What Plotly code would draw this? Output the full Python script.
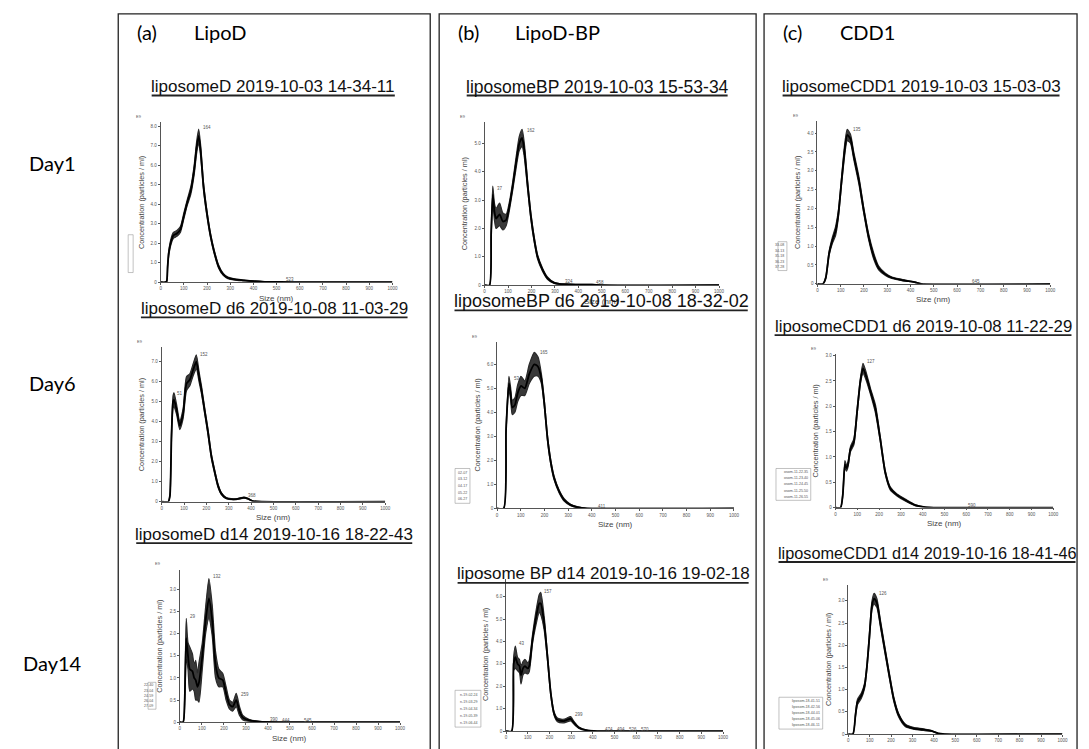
import plotly.graph_objects as go
import numpy as np

W, H = 1089, 749

# ---------------- DATA (size nm, mean concentration E9 particles/ml, half-width of band) -------------
A1_size = [0, 20, 26, 30, 35, 45, 55, 70, 85, 100, 115, 130, 145, 155, 164, 172, 185, 200, 215, 230, 250, 270, 290, 320, 360, 400, 450, 520, 600, 1000]
A1_conc = [0, 0, 0.05, 0.8, 1.5, 2.1, 2.4, 2.5, 2.7, 3.4, 4.1, 4.7, 5.8, 6.9, 7.5, 6.8, 4.9, 3.5, 2.4, 1.6, 0.8, 0.4, 0.22, 0.14, 0.09, 0.05, 0.02, 0.01, 0, 0]
A1_err = [0, 0, 0.02, 0.1, 0.12, 0.15, 0.15, 0.15, 0.15, 0.15, 0.15, 0.2, 0.25, 0.3, 0.35, 0.3, 0.2, 0.15, 0.12, 0.1, 0.08, 0.05, 0.04, 0.03, 0.02, 0.02, 0.01, 0, 0, 0]
A1_peaks = [164, 523]

A2_size = [0, 30, 37, 44, 51, 55, 67, 81, 96, 111, 126, 141, 155, 168, 178, 193, 207, 222, 237, 252, 267, 289, 333, 368, 385, 407, 450, 1000]
A2_conc = [0, 0, 0.3, 3.3, 5.0, 5.1, 4.6, 3.8, 4.4, 5.9, 6.1, 6.6, 7.0, 6.2, 5.6, 4.5, 3.5, 2.3, 1.5, 0.8, 0.4, 0.17, 0.12, 0.2, 0.15, 0.03, 0, 0]
A2_err = [0, 0, 0.05, 0.2, 0.3, 0.35, 0.25, 0.2, 0.25, 0.35, 0.3, 0.3, 0.35, 0.25, 0.2, 0.15, 0.15, 0.12, 0.1, 0.08, 0.05, 0.03, 0.02, 0.03, 0.02, 0.01, 0, 0]
A2_peaks = [51, 152, 368]

A3_size = [0, 15, 22, 29, 37, 45, 57, 65, 72, 80, 87, 102, 117, 132, 147, 162, 177, 195, 210, 225, 240, 256, 271, 286, 316, 361, 450, 1000]
A3_conc = [0, 0, 0.5, 1.9, 1.5, 1.2, 1.15, 1.0, 0.95, 0.8, 0.9, 1.5, 2.3, 2.8, 2.3, 1.3, 1.0, 0.95, 0.65, 0.4, 0.35, 0.5, 0.25, 0.1, 0.04, 0.01, 0, 0]
A3_err = [0, 0, 0.1, 0.45, 0.3, 0.5, 0.4, 0.3, 0.45, 0.3, 0.45, 0.3, 0.3, 0.45, 0.35, 0.3, 0.2, 0.15, 0.15, 0.1, 0.1, 0.15, 0.1, 0.05, 0.02, 0.01, 0, 0]
A3_peaks = [29, 132, 259, 390, 444, 545]

B1_size = [0, 21, 28, 35, 42, 49, 64, 78, 92, 106, 120, 134, 148, 160, 169, 184, 198, 212, 226, 247, 268, 297, 325, 360, 400, 458, 500, 1000]
B1_conc = [0, 0, 1.8, 3.2, 2.6, 2.35, 2.5, 2.25, 2.3, 2.8, 3.5, 4.3, 5.0, 5.2, 4.8, 3.5, 2.4, 1.6, 1.0, 0.55, 0.25, 0.08, 0.04, 0.03, 0.02, 0.02, 0, 0]
B1_err = [0, 0, 0.1, 0.3, 0.3, 0.35, 0.4, 0.3, 0.2, 0.15, 0.15, 0.2, 0.25, 0.3, 0.25, 0.15, 0.12, 0.1, 0.08, 0.06, 0.04, 0.02, 0.01, 0.01, 0.01, 0.01, 0, 0]
B1_peaks = [37, 162, 324, 458]

B2_size = [0, 28, 38, 50, 57, 64, 75, 87, 101, 117, 136, 157, 173, 187, 199, 213, 227, 241, 262, 283, 310, 338, 380, 1000]
B2_conc = [0, 0, 3.3, 5.2, 4.8, 4.2, 4.3, 4.8, 5.1, 5.0, 5.6, 6.0, 5.9, 5.4, 4.4, 2.9, 1.9, 1.25, 0.7, 0.35, 0.14, 0.05, 0, 0]
B2_err = [0, 0, 0.1, 0.3, 0.25, 0.3, 0.3, 0.35, 0.4, 0.3, 0.4, 0.5, 0.4, 0.2, 0.15, 0.12, 0.1, 0.08, 0.06, 0.05, 0.03, 0.02, 0, 0]
B2_peaks = [53, 165, 411]

B3_size = [0, 26, 35, 43, 53, 62, 69, 78, 87, 100, 107, 122, 137, 153, 160, 176, 191, 206, 221, 237, 267, 298, 313, 336, 374, 420, 1000]
B3_conc = [0, 0, 3.0, 3.3, 3.0, 2.9, 2.5, 2.8, 2.9, 2.8, 2.9, 4.1, 5.0, 5.7, 5.7, 4.8, 3.3, 1.7, 0.8, 0.5, 0.45, 0.55, 0.37, 0.15, 0.03, 0, 0]
B3_err = [0, 0, 0.3, 0.5, 0.3, 0.3, 0.4, 0.3, 0.3, 0.25, 0.25, 0.2, 0.3, 0.4, 0.5, 0.3, 0.15, 0.1, 0.08, 0.08, 0.08, 0.1, 0.06, 0.03, 0.01, 0, 0]
B3_peaks = [43, 157, 299, 474, 494, 526, 570]

C1_size = [0, 24, 36, 50, 64, 78, 90, 104, 118, 128, 142, 156, 178, 199, 220, 242, 263, 292, 320, 363, 391, 420, 448, 1000]
C1_conc = [0, 0, 0.16, 0.8, 1.15, 1.4, 1.85, 2.75, 3.6, 3.95, 3.85, 3.4, 2.75, 1.95, 1.25, 0.73, 0.42, 0.25, 0.16, 0.1, 0.07, 0.04, 0, 0]
C1_err = [0, 0, 0.03, 0.06, 0.08, 0.12, 0.1, 0.1, 0.15, 0.15, 0.12, 0.1, 0.1, 0.08, 0.08, 0.08, 0.05, 0.03, 0.02, 0.02, 0.01, 0.01, 0, 0]
C1_peaks = [135, 645]

C2_size = [0, 23, 33, 43, 50, 57, 68, 84, 99, 114, 126, 140, 160, 183, 205, 228, 251, 282, 320, 365, 411, 450, 1000]
C2_conc = [0, 0, 0.25, 0.85, 0.78, 0.85, 1.15, 1.3, 1.9, 2.5, 2.75, 2.6, 2.3, 1.95, 1.36, 0.7, 0.38, 0.25, 0.15, 0.05, 0.01, 0, 0]
C2_err = [0, 0, 0.03, 0.08, 0.06, 0.05, 0.05, 0.06, 0.06, 0.06, 0.1, 0.08, 0.06, 0.08, 0.05, 0.04, 0.03, 0.02, 0.02, 0.01, 0, 0, 0]
C2_peaks = [127, 590]

C3_size = [0, 22, 34, 43, 62, 77, 88, 99, 111, 121, 134, 150, 165, 189, 212, 235, 266, 304, 351, 389, 420, 450, 1000]
C3_conc = [0, 0, 0.43, 0.72, 0.87, 1.1, 1.55, 2.2, 2.9, 3.05, 2.95, 2.5, 2.07, 1.4, 0.8, 0.43, 0.2, 0.13, 0.1, 0.07, 0.015, 0, 0]
C3_err = [0, 0, 0.04, 0.06, 0.06, 0.06, 0.06, 0.08, 0.1, 0.12, 0.1, 0.08, 0.07, 0.06, 0.05, 0.04, 0.03, 0.02, 0.02, 0.01, 0, 0, 0]
C3_peaks = [126]

# tick labels
x_ticks = [0, 100, 200, 300, 400, 500, 600, 700, 800, 900, 1000]
y_ticks_A1 = [0, 1, 2, 3, 4, 5, 6, 7, 8]
y_ticks_A2 = [0, 1, 2, 3, 4, 5, 6, 7]
y_ticks_A3 = [0, 0.5, 1.0, 1.5, 2.0, 2.5, 3.0]
y_ticks_B1 = [0, 1, 2, 3, 4, 5]
y_ticks_B2 = [0, 1, 2, 3, 4, 5, 6]
y_ticks_B3 = [0, 1, 2, 3, 4, 5, 6]
y_ticks_C1 = [0, 0.5, 1.0, 1.5, 2.0, 2.5, 3.0, 3.5, 4.0]
y_ticks_C2 = [0, 0.5, 1.0, 1.5, 2.0, 2.5, 3.0]
y_ticks_C3 = [0, 0.5, 1.0, 1.5, 2.0, 2.5, 3.0]

# texts
column_letters = ["(a)", "(b)", "(c)"]
column_names = ["LipoD", "LipoD-BP", "CDD1"]
row_names = ["Day1", "Day6", "Day14"]
titles = {
    "A1": "liposomeD 2019-10-03 14-34-11",
    "A2": "liposomeD d6 2019-10-08 11-03-29",
    "A3": "liposomeD d14 2019-10-16 18-22-43",
    "B1": "liposomeBP 2019-10-03 15-53-34",
    "B2": "liposomeBP d6 2019-10-08 18-32-02",
    "B3": "liposome BP d14 2019-10-16 19-02-18",
    "C1": "liposomeCDD1 2019-10-03 15-03-03",
    "C2": "liposomeCDD1 d6 2019-10-08 11-22-29",
    "C3": "liposomeCDD1 d14 2019-10-16 18-41-46",
}
legend_texts = {
    "A3": ["22-40", "23-04", "24-59", "26-04", "27-09"],
    "B2": ["02-07", "03-12", "04-17", "05-22", "06-27"],
    "B3": ["n-19-02-24", "n-19-03-29", "n-19-04-34", "n-19-05-39", "n-19-06-44"],
    "C1": ["33-08", "34-13", "35-18", "36-23", "37-28"],
    "C2": ["osom-11-22-35", "osom-11-23-40", "osom-11-24-45", "osom-11-25-50", "osom-11-26-55"],
    "C3": ["liposom-18-41-51", "liposom-18-42-56", "liposom-18-44-01", "liposom-18-45-06", "liposom-18-46-11"],
}
y_title = "Concentration (particles / ml)"
x_title = "Size (nm)"

data = {
    "A1": (A1_size, A1_conc, A1_err, A1_peaks, y_ticks_A1),
    "A2": (A2_size, A2_conc, A2_err, A2_peaks, y_ticks_A2),
    "A3": (A3_size, A3_conc, A3_err, A3_peaks, y_ticks_A3),
    "B1": (B1_size, B1_conc, B1_err, B1_peaks, y_ticks_B1),
    "B2": (B2_size, B2_conc, B2_err, B2_peaks, y_ticks_B2),
    "B3": (B3_size, B3_conc, B3_err, B3_peaks, y_ticks_B3),
    "C1": (C1_size, C1_conc, C1_err, C1_peaks, y_ticks_C1),
    "C2": (C2_size, C2_conc, C2_err, C2_peaks, y_ticks_C2),
    "C3": (C3_size, C3_conc, C3_err, C3_peaks, y_ticks_C3),
}

# ---------------- GEOMETRY (pixels) ----------------
geom = {
    "A1": dict(x0=160.7, x1=394, yb=282.7, yt=122, ymax=8.2),
    "A2": dict(x0=161.7, x1=386.7, yb=503.3, yt=348, ymax=7.73),
    "A3": dict(x0=180, x1=401.7, yb=725, yt=571.7, ymax=3.45),
    "B1": dict(x0=486.7, x1=722.7, yb=285.7, yt=121.7, ymax=5.76),
    "B2": dict(x0=499.3, x1=737.7, yb=510, yt=343.3, ymax=6.91),
    "B3": dict(x0=508.3, x1=726.7, yb=734, yt=580.7, ymax=6.81),
    "C1": dict(x0=821.7, x1=1056, yb=284.3, yt=120.7, ymax=4.32),
    "C2": dict(x0=840, x1=1059, yb=509.3, yt=355, ymax=3.03),
    "C3": dict(x0=852.7, x1=1068.3, yb=737, yt=587.5, ymax=3.35),
}
# horizontal nudges (px) of crowded peak labels
label_shift = {"B3": [0, 0, 0, -8, 0, 5, 7]}
title_pos = {"A1": (274, 86), "A2": (275, 309), "A3": (275, 536),
             "B1": (600, 86), "B2": (604, 302), "B3": (606, 576),
             "C1": (926, 86), "C2": (928, 327), "C3": (932, 555)}
title_size = {"A1": 17, "A2": 17, "A3": 17, "B1": 17.5, "B2": 18, "B3": 17,
              "C1": 17, "C2": 16.8, "C3": 16.3}
legend_box = {"A3": (148, 685, 156, 712), "B2": (457, 470, 472, 505), "B3": (457, 693, 483, 730),
              "C1": (782, 242, 791, 271), "C2": (780, 470, 815, 502), "C3": (783, 700, 827, 732)}
boxes = [(118, 432), (441, 760), (768, 1083)]


def px(x):
    return x / W


def py(y):
    return 1 - y / H


# Arial-like advance widths (em) for underline length
AW = {'0': .556, '1': .556, '2': .556, '3': .556, '4': .556, '5': .556, '6': .556, '7': .556, '8': .556,
      '9': .556, '-': .333, ' ': .278, 'l': .222, 'i': .222, 'p': .556, 'o': .556, 's': .5, 'm': .833,
      'e': .556, 'D': .722, 'B': .667, 'P': .667, 'C': .722, 'd': .556}


def text_width(t, size):
    return sum(AW.get(c, .556) for c in t) * size


fig = go.Figure()
layout = {}
annotations = []
shapes = []
GRAY = "#555555"
FONT = "Liberation Sans, Arial, sans-serif"

for k, key in enumerate(["A1", "A2", "A3", "B1", "B2", "B3", "C1", "C2", "C3"], start=1):
    g = geom[key]
    size, conc, err, peaks, yt = data[key]
    size = np.array(size, float)
    conc = np.array(conc, float)
    err = np.array(err, float)
    up = conc + err
    lo = np.maximum(conc - err, 0)
    xa = "x" if k == 1 else f"x{k}"
    ya = "y" if k == 1 else f"y{k}"
    fig.add_trace(go.Scatter(x=np.concatenate([size, size[::-1]]), y=np.concatenate([up, lo[::-1]]),
                             fill="toself", fillcolor="rgba(45,45,45,0.95)", mode="lines",
                             line=dict(width=1.2, color="#2a2a2a", shape="spline", smoothing=0.6),
                             xaxis=xa, yaxis=ya, hoverinfo="skip", showlegend=False))
    fig.add_trace(go.Scatter(x=size, y=conc, mode="lines",
                             line=dict(color="black", width=1.8, shape="spline", smoothing=0.6),
                             xaxis=xa, yaxis=ya, showlegend=False))
    axcommon = dict(showline=True, linecolor=GRAY, linewidth=0.8, ticks="outside", ticklen=2,
                    tickwidth=0.6, tickcolor=GRAY, showgrid=False, zeroline=False,
                    tickfont=dict(size=4.5, color=GRAY, family=FONT))
    layout["xaxis" if k == 1 else f"xaxis{k}"] = dict(domain=[px(g["x0"]), px(g["x1"])], range=[0, 1000],
                                                      anchor=ya, tickvals=x_ticks,
                                                      ticktext=[str(v) for v in x_ticks], **axcommon)
    layout["yaxis" if k == 1 else f"yaxis{k}"] = dict(domain=[py(g["yb"]), py(g["yt"])], range=[0, g["ymax"]],
                                                      anchor=xa, tickvals=yt,
                                                      ticktext=["0" if v == 0 else f"{v:.1f}" for v in yt],
                                                      **axcommon)
    # peak labels
    shifts = label_shift.get(key, [0] * len(peaks))
    for p, s in zip(peaks, shifts):
        yv = float(np.interp(p, size, up))
        annotations.append(dict(x=p, y=yv, xref=xa, yref=ya, text=str(p), showarrow=False,
                                xanchor="left", yanchor="middle", xshift=2 + s, yshift=2,
                                font=dict(size=4.5, color=GRAY, family=FONT)))
    # E9
    annotations.append(dict(x=px(g["x0"] - 22), y=py(g["yt"] - 6), xref="paper", yref="paper", text="E9",
                            showarrow=False, xanchor="center", yanchor="middle",
                            font=dict(size=4, color=GRAY, family=FONT)))
    # axis titles
    annotations.append(dict(x=px(g["x0"] - 20), y=py((g["yb"] + g["yt"]) / 2), xref="paper", yref="paper",
                            text=y_title, textangle=-90, showarrow=False, xanchor="center", yanchor="middle",
                            font=dict(size=7.3, color="#444444", family=FONT)))
    if g["yb"] + 16 < H - 5:
        annotations.append(dict(x=px((g["x0"] + g["x1"]) / 2), y=py(g["yb"] + 16), xref="paper", yref="paper",
                                text=x_title, showarrow=False, xanchor="center", yanchor="middle",
                                font=dict(size=8, color="#444444", family=FONT)))
    # title with underline
    tx, ty = title_pos[key]
    fs = title_size[key]
    annotations.append(dict(x=px(tx), y=py(ty), xref="paper", yref="paper", text=titles[key], showarrow=False,
                            xanchor="center", yanchor="middle", font=dict(size=fs, color="#111111", family=FONT)))
    tw = text_width(titles[key], fs)
    shapes.append(dict(type="line", xref="paper", yref="paper", x0=px(tx - tw / 2), x1=px(tx + tw / 2),
                       y0=py(ty + 9), y1=py(ty + 9), line=dict(color="#222222", width=1.8)))
    # legend remnants
    if key in legend_box:
        bx0, by0, bx1, by1 = legend_box[key]
        shapes.append(dict(type="rect", xref="paper", yref="paper", x0=px(bx0), x1=px(bx1), y0=py(by0),
                           y1=py(by1), line=dict(color="#999999", width=0.6)))
        lt = legend_texts[key]
        for i, t in enumerate(lt):
            yy = by0 + (by1 - by0) * (i + 0.6) / (len(lt) + 0.2)
            annotations.append(dict(x=px(bx1 - 1), y=py(yy), xref="paper", yref="paper", text=t,
                                    showarrow=False, xanchor="right", yanchor="middle",
                                    font=dict(size=3.6, color=GRAY, family=FONT)))

# small vertical legend remnant of panel A1
shapes.append(dict(type="rect", xref="paper", yref="paper", x0=px(128), x1=px(133), y0=py(235), y1=py(273),
                   line=dict(color="#999999", width=0.6)))

# column boxes and headers
for (bx0, bx1), letter, name in zip(boxes, column_letters, column_names):
    shapes.append(dict(type="rect", xref="paper", yref="paper", x0=px(bx0), x1=px(bx1), y0=py(13), y1=py(770),
                       line=dict(color="#222222", width=1.3)))
    annotations.append(dict(x=px(bx0 + 17), y=py(31), xref="paper", yref="paper", text=letter, showarrow=False,
                            xanchor="left", yanchor="middle", font=dict(size=20, color="black", family="Lato")))
    annotations.append(dict(x=px(bx0 + 74), y=py(31), xref="paper", yref="paper", text=name, showarrow=False,
                            xanchor="left", yanchor="middle", font=dict(size=20, color="black", family="Lato")))

for name, yy in zip(row_names, [163, 384, 666]):
    annotations.append(dict(x=px(52), y=py(yy), xref="paper", yref="paper", text=name, showarrow=False,
                            xanchor="center", yanchor="middle", font=dict(size=20, color="black", family="Lato")))

fig.update_layout(width=W, height=H, margin=dict(l=0, r=0, t=0, b=0), plot_bgcolor="white",
                  paper_bgcolor="white", showlegend=False, annotations=annotations, shapes=shapes, **layout)
fig.write_html("out.html", config={"displayModeBar": False},
               post_script="document.body.style.margin='0';document.body.style.padding='0';"
                           "document.body.style.overflow='hidden';")
